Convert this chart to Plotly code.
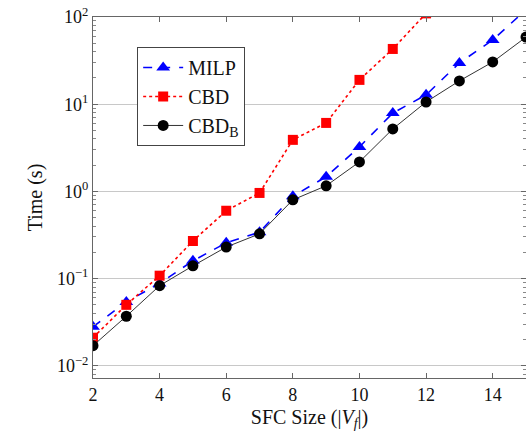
import plotly.graph_objects as go

sizes = [2, 3, 4, 5, 6, 7, 8, 9, 10, 11, 12, 13, 14, 15]
milp = [0.028, 0.054, 0.088, 0.16, 0.257, 0.34, 0.88, 1.47, 3.24, 7.9, 12.8, 29.7, 54.5, 121]
cbd_sizes = [2, 3, 4, 5, 6, 7, 8, 9, 10, 11, 12]
cbd = [0.021, 0.050, 0.108, 0.27, 0.60, 0.96, 3.9, 6.1, 19.0, 43.0, 110.0]
cbdb = [0.017, 0.037, 0.083, 0.14, 0.23, 0.326, 0.80, 1.16, 2.18, 5.2, 10.6, 18.5, 30.5, 58.8]

xticks = [2, 4, 6, 8, 10, 12, 14]
yticks = [0.01, 0.1, 1, 10, 100]
yticklabels = ["10<sup>−2</sup>", "10<sup>−1</sup>", "10<sup>0</sup>", "10<sup>1</sup>", "10<sup>2</sup>"]

font = "Liberation Serif, Times New Roman, serif"

minor_vals = [m * 10 ** e for e in range(-3, 3) for m in range(2, 10)]

fig = go.Figure()
fig.add_trace(go.Scatter(
    x=sizes, y=milp, name="MILP", mode="lines+markers",
    line=dict(color="#0000ff", width=1.6, dash="dash"),
    marker=dict(symbol="triangle-up", size=12, color="#0000ff"),
))
fig.add_trace(go.Scatter(
    x=cbd_sizes, y=cbd, name="CBD", mode="lines+markers",
    line=dict(color="#ff0000", width=1.6, dash="dot"),
    marker=dict(symbol="square", size=10, color="#ff0000"),
))
fig.add_trace(go.Scatter(
    x=sizes, y=cbdb, name="CBD<sub>B</sub>", mode="lines+markers",
    line=dict(color="#333333", width=1),
    marker=dict(symbol="circle", size=11, color="#000000"),
))

axis_common = dict(
    showline=True, linecolor="#666666", linewidth=1, mirror="allticks",
    ticks="inside", tickcolor="#666666", ticklen=5,
    tickfont=dict(family=font, size=18, color="#111111"),
    zeroline=False, automargin=False,
)

fig.update_layout(
    width=526, height=446,
    margin=dict(l=93, r=0, t=17, b=68, autoexpand=False),
    paper_bgcolor="white", plot_bgcolor="white",
    font=dict(family=font, color="#111111"),
    showlegend=True,
    legend=dict(
        x=0.102, y=0.917, xanchor="left", yanchor="top",
        bordercolor="#444444", borderwidth=1, bgcolor="white",
        font=dict(family=font, size=20, color="#111111"),
        itemwidth=40, tracegroupgap=0,
    ),
    xaxis=dict(
        range=[2, 15], tickvals=xticks, showgrid=False,
        title=dict(text="SFC Size (|<i>V<sub>f</sub></i>|)", font=dict(family=font, size=20), standoff=6),
        **axis_common,
    ),
    yaxis=dict(
        type="log", range=[-2.14, 2], tickvals=yticks, ticktext=yticklabels,
        showgrid=True, gridcolor="#c8c8c8", gridwidth=1,
        minor=dict(tickvals=minor_vals, ticks="inside", ticklen=3, tickcolor="#888888", showgrid=False),
        title=dict(text="Time (s)", font=dict(family=font, size=20), standoff=8),
        **axis_common,
    ),
)

fig.write_html(
    "out.html",
    config={"displayModeBar": False},
    post_script="document.body.style.margin='0';document.body.style.overflow='hidden';",
)
